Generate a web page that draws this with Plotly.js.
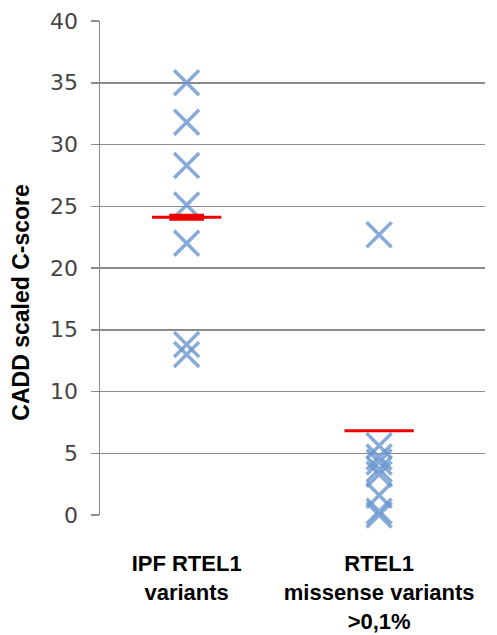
<!DOCTYPE html>
<html>
<head>
<meta charset="utf-8">
<script src="https://cdn.plot.ly/plotly-3.0.1.min.js"></script>
<style>html,body{margin:0;padding:0;background:#fff;}#chart{width:497px;height:635px;}</style>
</head>
<body>
<div id="chart"></div>
<script>
// ---- data ----
var categories = ["IPF RTEL1<br>variants", "RTEL1<br>missense variants<br>>0,1%"];
var ipfScores = [35.0, 31.8, 28.3, 25.1, 22.0, 13.8, 13.0];
var missenseScores = [22.7, 5.6, 4.7, 4.3, 3.7, 3.3, 1.6, 0.3, 0.0];
var meanScores = [24.1, 6.83];
var yTicks = [0, 5, 10, 15, 20, 25, 30, 35, 40];
var yTitle = "CADD scaled C-score";

// ---- styling ----
var crossColor = "rgba(105,150,208,0.8)";
var groups = [ipfScores, missenseScores];
var traces = [];
groups.forEach(function (vals, i) {
  traces.push({
    type: "scatter", mode: "markers",
    x: vals.map(function () { return i; }), y: vals,
    marker: { symbol: "x-thin", size: 25, line: { width: 3.5, color: crossColor }, color: crossColor },
    cliponaxis: false, hoverinfo: "y", showlegend: false
  });
});
meanScores.forEach(function (m, i) {
  traces.push({
    type: "scatter", mode: "lines",
    x: [i - 0.18, i + 0.18], y: [m, m],
    line: { color: "#ee0000", width: 3 }, cliponaxis: false, showlegend: false, hoverinfo: "skip"
  });
});
// thicker central part on first group's mean marker
traces.push({
  type: "scatter", mode: "lines",
  x: [0 - 0.09, 0 + 0.09], y: [meanScores[0], meanScores[0]],
  line: { color: "#ee0000", width: 7 }, cliponaxis: false, showlegend: false, hoverinfo: "skip"
});

var layout = {
  width: 497, height: 635,
  margin: { l: 100, r: 12, t: 21, b: 120 },
  paper_bgcolor: "#ffffff", plot_bgcolor: "#ffffff",
  showlegend: false,
  xaxis: {
    range: [-0.45, 1.55],
    tickvals: [0, 1], ticktext: categories,
    ticks: "outside", ticklen: 29, tickcolor: "rgba(0,0,0,0)",
    showgrid: false, zeroline: false, showline: false,
    tickfont: { family: "Liberation Sans, Arial, sans-serif", size: 22, color: "#000000", weight: "bold" }
  },
  yaxis: {
    range: [0, 40],
    tickvals: yTicks,
    ticks: "outside", ticklen: 8, tickwidth: 1.5, tickcolor: "#8c8c8c",
    ticklabelstandoff: 8,
    showgrid: true, gridcolor: "#8c8c8c", gridwidth: 1.5,
    showline: true, linecolor: "#8c8c8c", linewidth: 1.5,
    zeroline: false,
    tickfont: { family: "DejaVu Sans, Verdana, sans-serif", size: 22, color: "#454545" }
  },
  annotations: [{
    text: yTitle, textangle: -90,
    xref: "paper", yref: "paper", x: -0.205, y: 0.43,
    xanchor: "center", yanchor: "middle", showarrow: false,
    font: { family: "Liberation Sans, Arial, sans-serif", size: 23, color: "#000000", weight: "bold" }
  }]
};

Plotly.newPlot("chart", traces, layout, { staticPlot: true, displayModeBar: false });
</script>
</body>
</html>
